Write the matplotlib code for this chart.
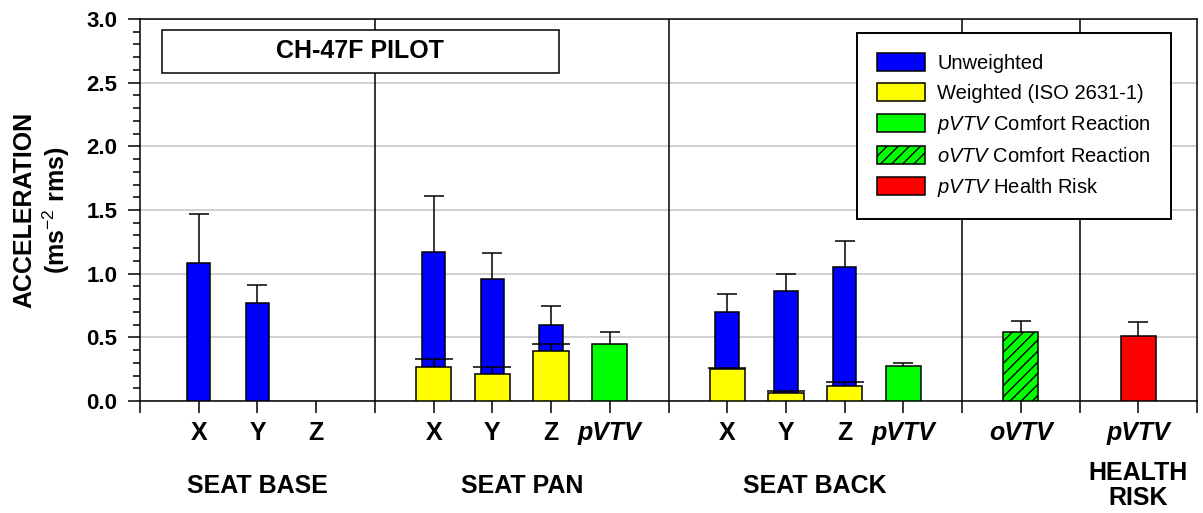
import matplotlib
matplotlib.use("Agg")
import matplotlib.pyplot as plt
from matplotlib.patches import Patch, Rectangle
import numpy as np

plt.rcParams['font.family'] = ['Liberation Sans', 'DejaVu Sans']
plt.rcParams['mathtext.fontset'] = 'custom'
plt.rcParams['mathtext.rm'] = 'Liberation Sans'
plt.rcParams['mathtext.it'] = 'Liberation Sans:italic'
plt.rcParams['mathtext.bf'] = 'Liberation Sans:bold'
plt.rcParams['hatch.linewidth'] = 1.0

# ---------------- data ----------------
group_names = ["SEAT BASE", "SEAT PAN", "SEAT BACK", "", "HEALTH\nRISK"]
group_categories = [["X", "Y", "Z"],
                    ["X", "Y", "Z", "pVTV"],
                    ["X", "Y", "Z", "pVTV"],
                    ["oVTV"],
                    ["pVTV"]]
nan = np.nan
# flat order: base X,Y,Z | pan X,Y,Z,pVTV | back X,Y,Z,pVTV | oVTV | pVTV health
unweighted_mean = [1.08, 0.77, nan, 1.17, 0.96, 0.60, nan, 0.70, 0.86, 1.05, nan, nan, nan]
unweighted_sd   = [0.39, 0.14, nan, 0.44, 0.20, 0.15, nan, 0.14, 0.14, 0.21, nan, nan, nan]
weighted_mean   = [nan, nan, nan, 0.27, 0.21, 0.39, nan, 0.25, 0.065, 0.12, nan, nan, nan]
weighted_sd     = [nan, nan, nan, 0.06, 0.06, 0.06, nan, 0.01, 0.01, 0.03, nan, nan, nan]
pvtv_comfort_mean = [nan, nan, nan, nan, nan, nan, 0.45, nan, nan, nan, 0.275, nan, nan]
pvtv_comfort_sd   = [nan, nan, nan, nan, nan, nan, 0.09, nan, nan, nan, 0.026, nan, nan]
ovtv_comfort_mean = [nan] * 11 + [0.54, nan]
ovtv_comfort_sd   = [nan] * 11 + [0.09, nan]
pvtv_health_mean  = [nan] * 12 + [0.51]
pvtv_health_sd    = [nan] * 12 + [0.11]

yticks = [0.0, 0.5, 1.0, 1.5, 2.0, 2.5, 3.0]

# ---------------- layout of categories ----------------
positions, categories, separators, centers = [], [], [0], []
pos = 1
for cats in group_categories:
    ps = list(range(pos, pos + len(cats)))
    positions += ps
    categories += cats
    centers.append(np.mean(ps))
    pos += len(cats)
    separators.append(pos)
    pos += 1
positions = np.array(positions, dtype=float)

fig = plt.figure(figsize=(12.03, 5.13), dpi=100)
ax = fig.add_axes([140 / 1203, 112 / 513, 1057 / 1203, 382 / 513])

LW = 1.1


def draw(mean, sd, color, width, cap, z, hatch=None):
    mean = np.array(mean, dtype=float)
    sd = np.array(sd, dtype=float)
    m = ~np.isnan(mean)
    ax.bar(positions[m], mean[m], width=width, color=color, edgecolor='black',
           linewidth=LW, hatch=hatch, zorder=z)
    eb = ax.errorbar(positions[m], mean[m], yerr=[np.zeros(m.sum()), sd[m]], fmt='none',
                     ecolor='black', elinewidth=LW, capsize=cap, capthick=LW, zorder=z + 0.5)
    eb.lines[1][0].set_visible(False)


draw(unweighted_mean, unweighted_sd, '#0000ff', 0.4, 7.2, 3)
draw(weighted_mean, weighted_sd, '#ffff00', 0.6, 14, 4)
draw(pvtv_comfort_mean, pvtv_comfort_sd, '#00ff00', 0.6, 7.2, 4)
draw(ovtv_comfort_mean, ovtv_comfort_sd, '#00ff00', 0.6, 7.2, 4, hatch='///')
draw(pvtv_health_mean, pvtv_health_sd, '#ff0000', 0.6, 7.2, 4)

# separators
for s in separators[1:-1]:
    ax.axvline(s, color='black', lw=LW, zorder=2)

ax.set_xlim(separators[0], separators[-1])
ax.set_ylim(0, 3.0)

ax.set_xticks(positions)
ax.set_xticklabels(categories, fontsize=18, fontweight='bold')
for t in ax.get_xticklabels():
    if 'VTV' in t.get_text():
        t.set_fontstyle('italic')
ax.set_xticks(separators, minor=True)
ax.tick_params(axis='x', which='both', direction='out', length=8.6, width=LW, pad=6)

ax.set_yticks(yticks)
ax.set_yticklabels([f"{v:.1f}" for v in yticks], fontsize=16, fontweight='bold')
ax.set_yticks(np.arange(0, 3.001, 0.1), minor=True)
ax.tick_params(axis='y', which='major', direction='out', length=8.4, width=LW, pad=8)
ax.tick_params(axis='y', which='minor', direction='out', length=4.8, width=LW)

ax.yaxis.grid(True, which='major', color='#c8c8c8', lw=1.2)
ax.set_axisbelow(True)
for sp in ax.spines.values():
    sp.set_linewidth(LW)

ax.set_ylabel("ACCELERATION\n(ms$^{-2}$ rms)", fontsize=18, fontweight='bold', linespacing=1.2)
ax.yaxis.set_label_coords(-0.064, 0.5)

for c, name in zip(centers, group_names):
    if name:
        ax.text(c, -0.222, name, transform=ax.get_xaxis_transform(), ha='center',
                va='center', fontsize=18, fontweight='bold', linespacing=1.05)

# title box
ax.add_patch(Rectangle((0.0208, 0.859), 0.376, 0.112, transform=ax.transAxes,
                       facecolor='white', edgecolor='black', lw=LW, zorder=6))
ax.text(0.2085, 0.915, "CH-47F PILOT", transform=ax.transAxes, ha='center', va='center',
        fontsize=18, fontweight='bold', zorder=7)

handles = [
    Patch(facecolor='#0000ff', edgecolor='black', lw=LW, label='Unweighted'),
    Patch(facecolor='#ffff00', edgecolor='black', lw=LW, label='Weighted (ISO 2631-1)'),
    Patch(facecolor='#00ff00', edgecolor='black', lw=LW, label='$\\it{pVTV}$ Comfort Reaction'),
    Patch(facecolor='#00ff00', edgecolor='black', lw=LW, hatch='///', label='$\\it{oVTV}$ Comfort Reaction'),
    Patch(facecolor='#ff0000', edgecolor='black', lw=LW, label='$\\it{pVTV}$ Health Risk'),
]
leg = ax.legend(handles=handles, loc='upper left', bbox_to_anchor=(0.678, 0.964),
                fontsize=14.5, frameon=True, fancybox=False, edgecolor='black',
                framealpha=1, handlelength=2.4, handleheight=1.0, handletextpad=0.6,
                labelspacing=0.5, borderpad=1.0, borderaxespad=0)
leg.get_frame().set_linewidth(1.4)
leg.set_zorder(8)

fig.savefig("out.png", dpi=100)
